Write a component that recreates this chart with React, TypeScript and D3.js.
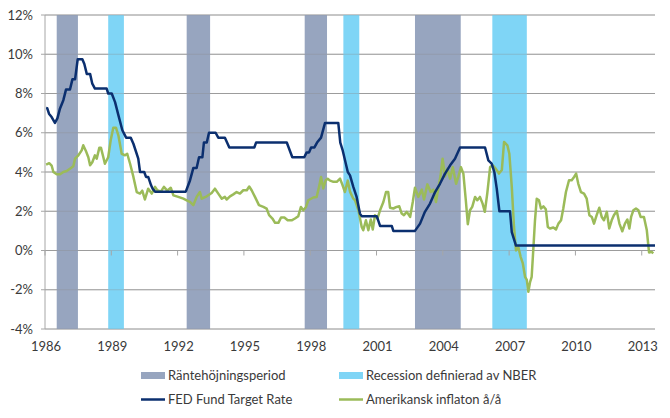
import React from 'react';
import * as d3 from 'd3';

// FED Fund Target Rate (decimal year, %)
const fedYears = [1986.05, 1986.10, 1986.18, 1986.30, 1986.45, 1986.56, 1986.68, 1986.83, 1986.95, 1987.13, 1987.24, 1987.36, 1987.48, 1987.69, 1987.78, 1987.89, 1988.04, 1988.14, 1988.26, 1988.79, 1988.86, 1989.02, 1989.17, 1989.32, 1989.50, 1989.67, 1989.88, 1990.00, 1990.22, 1990.30, 1990.49, 1990.57, 1990.67, 1990.80, 1990.87, 1990.98, 1992.37, 1992.56, 1992.71, 1992.86, 1992.97, 1993.12, 1993.19, 1993.32, 1993.42, 1993.72, 1993.84, 1994.14, 1994.34, 1995.47, 1995.55, 1996.94, 1997.19, 1997.73, 1997.84, 1997.95, 1998.04, 1998.19, 1998.31, 1998.49, 1998.67, 1999.27, 1999.36, 1999.47, 1999.70, 1999.80, 1999.95, 2000.10, 2000.25, 2000.33, 2001.01, 2001.16, 2001.69, 2001.76, 2002.74, 2002.97, 2003.19, 2003.42, 2003.65, 2003.87, 2004.10, 2004.33, 2004.55, 2004.78, 2005.91, 2006.06, 2006.21, 2006.33, 2006.44, 2006.56, 2007.04, 2007.12, 2007.31, 2013.60];
const fedValues = [7.26, 7.25, 6.97, 6.8, 6.5, 6.73, 7.24, 7.66, 8.2, 8.2, 8.72, 8.72, 9.75, 9.75, 9.5, 9.0, 9.0, 8.5, 8.25, 8.25, 8.0, 8.0, 7.56, 6.9, 6.13, 5.75, 5.75, 5.44, 4.68, 4.0, 4.0, 3.75, 3.75, 3.32, 3.15, 3.0, 3.0, 3.57, 4.2, 4.2, 4.75, 4.75, 5.5, 5.5, 6.0, 6.0, 5.75, 5.75, 5.25, 5.25, 5.5, 5.5, 4.75, 4.75, 5.0, 5.0, 5.25, 5.25, 5.5, 5.75, 6.5, 6.5, 5.5, 5.1, 4.0, 3.83, 3.24, 2.73, 1.88, 1.75, 1.75, 1.25, 1.25, 1.0, 1.0, 1.37, 1.97, 2.39, 2.98, 3.4, 3.92, 4.34, 4.68, 5.25, 5.25, 4.59, 4.43, 4.0, 3.15, 2.0, 2.0, 0.93, 0.25, 0.25];

// Amerikansk inflation å/å (decimal year, %)
const inflYears = [1986.05, 1986.19, 1986.30, 1986.38, 1986.53, 1986.68, 1986.83, 1986.98, 1987.13, 1987.28, 1987.36, 1987.51, 1987.66, 1987.73, 1987.84, 1987.96, 1988.04, 1988.14, 1988.26, 1988.34, 1988.46, 1988.53, 1988.64, 1988.71, 1988.86, 1988.97, 1989.09, 1989.21, 1989.32, 1989.47, 1989.62, 1989.72, 1989.85, 1990.00, 1990.15, 1990.30, 1990.40, 1990.52, 1990.67, 1990.83, 1990.98, 1991.08, 1991.24, 1991.38, 1991.53, 1991.69, 1991.81, 1992.03, 1992.26, 1992.41, 1992.56, 1992.71, 1992.86, 1993.01, 1993.09, 1993.32, 1993.54, 1993.69, 1993.84, 1994.00, 1994.14, 1994.22, 1994.37, 1994.52, 1994.67, 1994.82, 1994.97, 1995.13, 1995.24, 1995.35, 1995.50, 1995.68, 1995.88, 1996.03, 1996.14, 1996.29, 1996.41, 1996.56, 1996.68, 1996.83, 1996.98, 1997.16, 1997.31, 1997.46, 1997.58, 1997.69, 1997.81, 1997.91, 1998.14, 1998.29, 1998.40, 1998.49, 1998.59, 1998.70, 1998.79, 1998.90, 1999.05, 1999.20, 1999.35, 1999.45, 1999.57, 1999.70, 1999.80, 1999.95, 2000.03, 2000.18, 2000.33, 2000.40, 2000.52, 2000.63, 2000.74, 2000.83, 2000.93, 2001.04, 2001.16, 2001.31, 2001.43, 2001.53, 2001.61, 2001.76, 2001.91, 2002.03, 2002.14, 2002.24, 2002.37, 2002.52, 2002.64, 2002.74, 2002.89, 2003.05, 2003.15, 2003.30, 2003.45, 2003.57, 2003.69, 2003.80, 2003.90, 2003.99, 2004.10, 2004.20, 2004.33, 2004.45, 2004.60, 2004.70, 2004.82, 2004.93, 2005.04, 2005.13, 2005.23, 2005.33, 2005.46, 2005.56, 2005.68, 2005.80, 2005.90, 2006.01, 2006.14, 2006.26, 2006.39, 2006.54, 2006.67, 2006.77, 2006.92, 2007.01, 2007.12, 2007.22, 2007.31, 2007.42, 2007.52, 2007.62, 2007.72, 2007.80, 2007.87, 2007.95, 2008.02, 2008.10, 2008.17, 2008.25, 2008.35, 2008.44, 2008.55, 2008.66, 2008.75, 2008.85, 2009.00, 2009.12, 2009.23, 2009.35, 2009.45, 2009.57, 2009.71, 2009.83, 2009.94, 2010.03, 2010.13, 2010.25, 2010.39, 2010.51, 2010.63, 2010.74, 2010.84, 2010.96, 2011.08, 2011.19, 2011.29, 2011.42, 2011.53, 2011.64, 2011.74, 2011.87, 2011.99, 2012.12, 2012.24, 2012.35, 2012.44, 2012.52, 2012.62, 2012.74, 2012.85, 2012.95, 2013.10, 2013.23, 2013.33, 2013.45, 2013.52];
const inflValues = [4.38, 4.45, 4.33, 4.0, 3.88, 3.88, 4.0, 4.05, 4.17, 4.29, 4.68, 4.85, 5.1, 5.36, 5.1, 4.75, 4.34, 4.5, 4.85, 4.68, 5.24, 5.24, 4.75, 4.42, 4.75, 5.6, 6.26, 6.26, 5.87, 4.93, 4.85, 4.93, 4.42, 3.75, 2.98, 2.9, 3.05, 2.6, 3.15, 2.9, 3.24, 3.07, 3.0, 3.24, 3.05, 3.2, 2.81, 2.73, 2.64, 2.56, 2.48, 2.31, 2.73, 2.98, 2.64, 2.76, 2.93, 3.15, 2.9, 2.64, 2.73, 2.6, 2.76, 2.86, 2.98, 2.9, 3.07, 3.07, 3.26, 3.07, 2.73, 2.31, 2.22, 2.13, 1.8, 1.63, 1.41, 1.41, 1.68, 1.68, 1.54, 1.54, 1.63, 1.75, 2.22, 2.05, 2.22, 2.56, 2.7, 2.73, 3.24, 3.75, 3.16, 3.58, 3.66, 3.56, 3.5, 3.5, 3.66, 3.37, 2.98, 3.56, 3.0, 2.64, 2.56, 2.05, 1.2, 1.03, 1.54, 1.03, 1.58, 1.07, 1.8, 1.63, 2.05, 2.47, 2.98, 2.98, 2.18, 2.14, 2.22, 2.25, 1.88, 1.8, 1.97, 1.71, 2.47, 3.2, 2.73, 3.1, 2.6, 3.37, 2.98, 3.1, 2.47, 3.2, 3.83, 4.68, 3.77, 4.17, 3.66, 4.25, 3.4, 3.75, 4.25, 3.92, 2.56, 1.34, 2.05, 2.22, 2.73, 2.56, 2.73, 2.39, 1.97, 2.9, 4.25, 4.34, 4.17, 3.92, 4.1, 5.53, 5.36, 4.93, 3.24, 1.2, 0.0, 0.17, -0.32, -0.66, -1.34, -1.5, -2.1, -1.6, -1.34, 0.17, 1.54, 2.64, 2.56, 2.14, 2.25, 2.1, 1.2, 1.12, 1.17, 1.07, 1.37, 1.54, 2.14, 2.98, 3.58, 3.58, 3.75, 3.92, 3.4, 2.98, 2.9, 2.64, 1.8, 1.71, 1.37, 1.8, 2.18, 1.71, 1.54, 1.97, 1.12, 1.54, 1.8, 2.01, 1.37, 0.98, 1.37, 1.58, 1.12, 1.71, 2.05, 2.14, 2.05, 1.71, 1.71, 1.03, -0.1, -0.07, -0.15];

// Shaded periods
const hikeStart = [1986.53, 1992.41, 1997.75, 2002.74];
const hikeEnd = [1987.49, 1993.47, 1998.76, 2004.81];
const recStart = [1988.86, 1999.50, 2006.24];
const recEnd = [1989.57, 2000.22, 2007.80];

const yTicks = [-4, -2, 0, 2, 4, 6, 8, 10, 12];
const xTicks = [1986, 1989, 1992, 1995, 1998, 2001, 2004, 2007, 2010, 2013];

const legendLabels = ['Räntehöjningsperiod', 'Recession definierad av NBER', 'FED Fund Target Rate', 'Amerikansk inflaton å/å'];

const C_HIKE = '#97a5bf';
const C_REC = '#7fd5f6';
const C_FED = '#0b2f6f';
const C_INF = '#9bbb59';
const FONT = 'Lato, "Open Sans", sans-serif';
const TXT = '#3a3a3a';

export default function App() {
  const W = 670, H = 418;
  const x = d3.scaleLinear().domain([1986, 2013.6]).range([45, 655]);
  const y = d3.scaleLinear().domain([-4, 12]).range([329, 15]);

  const fedData = fedYears.map((t, i) => [t, fedValues[i]] as [number, number]);
  const infData = inflYears.map((t, i) => [t, inflValues[i]] as [number, number]);
  const line = d3.line<[number, number]>().x(d => x(d[0])).y(d => y(d[1]));

  const fmt = (v: number) => `${v}%`;

  return (
    <svg width={W} height={H} style={{ position: 'absolute', left: 0, top: 0, background: '#fff' }} fontFamily={FONT}>
      {/* gridlines */}
      {yTicks.map(v => (
        <line key={'g' + v} x1={41} x2={655} y1={y(v)} y2={y(v)} stroke={v === 0 ? '#a6a6a6' : '#a6a6a6'} strokeWidth={1} />
      ))}
      {/* bands */}
      {hikeStart.map((s, i) => (
        <rect key={'h' + i} x={x(s)} y={y(12)} width={x(hikeEnd[i]) - x(s)} height={y(-4) - y(12)} fill={C_HIKE} />
      ))}
      {recStart.map((s, i) => (
        <rect key={'r' + i} x={x(s)} y={y(12)} width={x(recEnd[i]) - x(s)} height={y(-4) - y(12)} fill={C_REC} />
      ))}
      {/* gridlines over bands (semi visible) */}
      {yTicks.map(v => (
        <line key={'go' + v} x1={45} x2={655} y1={y(v)} y2={y(v)} stroke="#8a8a8a" strokeOpacity={0.35} strokeWidth={1} />
      ))}
      {/* y axis */}
      <line x1={45} x2={45} y1={y(12)} y2={y(-4)} stroke="#a6a6a6" />
      {/* x axis ticks at 0 */}
      {xTicks.map(t => (
        <line key={'xt' + t} x1={x(t)} x2={x(t)} y1={y(0)} y2={y(0) + 5} stroke="#a6a6a6" />
      ))}
      {/* lines */}
      <path d={line(infData) || ''} fill="none" stroke={C_INF} strokeWidth={2.5} strokeLinejoin="round" />
      <path d={line(fedData) || ''} fill="none" stroke={C_FED} strokeWidth={2.5} strokeLinejoin="round" />
      {/* y labels */}
      {yTicks.map(v => (
        <text key={'yl' + v} x={33} y={y(v)} dy="0.35em" textAnchor="end" fontSize={13} fill={TXT}>{fmt(v)}</text>
      ))}
      {/* x labels */}
      {xTicks.map(t => (
        <text key={'xl' + t} x={x(t) + 1} y={351} textAnchor="middle" fontSize={13} fill={TXT}>{t}</text>
      ))}
      {/* legend */}
      <rect x={141} y={372} width={24} height={7} fill={C_HIKE} />
      <text x={168} y={375.5} dy="0.35em" fontSize={13} fill={TXT}>{legendLabels[0]}</text>
      <rect x={339} y={372} width={24} height={7} fill={C_REC} />
      <text x={366} y={375.5} dy="0.35em" fontSize={13} fill={TXT}>{legendLabels[1]}</text>
      <line x1={141} x2={165} y1={399.5} y2={399.5} stroke={C_FED} strokeWidth={2.5} />
      <text x={168} y={399.5} dy="0.35em" fontSize={13} fill={TXT}>{legendLabels[2]}</text>
      <line x1={339} x2={363} y1={399.5} y2={399.5} stroke={C_INF} strokeWidth={2.5} />
      <text x={366} y={399.5} dy="0.35em" fontSize={13} fill={TXT}>{legendLabels[3]}</text>
    </svg>
  );
}
